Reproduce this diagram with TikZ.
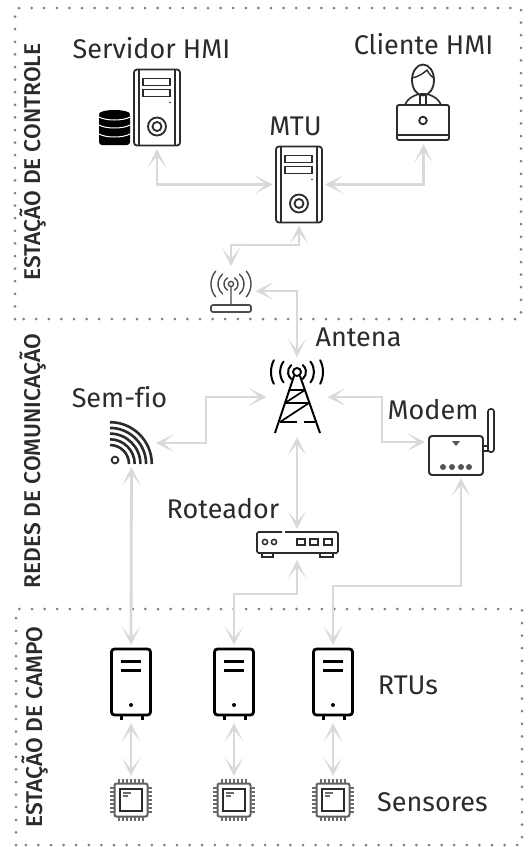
\documentclass[tikz,border=0pt]{standalone}
\usepackage{fontspec}
\setmainfont[Ligatures=NoCommon]{Fira Sans}
\newfontfamily\zonefont{Fira Sans Medium}
\usetikzlibrary{arrows.meta,positioning,calc}
\definecolor{ink}{HTML}{2B2B2B}
\definecolor{wire}{HTML}{D9D9D9}
\definecolor{dotgray}{HTML}{808080}
\tikzset{
 lbl/.style={font=\fontsize{27}{29}\selectfont,text=ink,inner sep=0pt,anchor=base},
 zonelbl/.style={font=\fontsize{22.8}{25}\zonefont,text=ink,inner sep=0pt,rotate=90},
 iconbox/.style={inner sep=0pt,outer sep=3pt,minimum width=#1},
 wirelink/.style={draw=wire,line width=2.8pt,{Stealth[length=18pt,width=18pt,inset=11pt]}-{Stealth[length=18pt,width=18pt,inset=11pt]}},
 zone/.style={dotgray,line width=3pt,line cap=round,dash pattern=on 0pt off 12.6pt},
 pics/towerpc/.style={code={
  \draw[ink,line width=1.8pt,rounded corners=3pt] (-23,-38) rectangle (23,38);
  \draw[ink,line width=1.5pt] (-18,-38) -- (-18,38) (18,-38) -- (18,38);
  \draw[ink,line width=1.5pt] (-14,-29) rectangle (13,-22) (-14,-18) rectangle (13,-11);
  \draw[ink,line width=1.8pt] (0,19) circle (9pt) (0,19) circle (4.5pt);
  \fill[ink] (13,-5) circle (.8pt);
 }},
 pics/rtubox/.style={code={
  \draw[black,line width=2.8pt,rounded corners=3pt] (-19.5,-35) rectangle (19.5,31);
  \draw[black,line width=3pt] (-10,-23) -- (10,-23) (-10,-14) -- (10,-14) (-10,31) -- (-10,36) (11,31) -- (11,36);
  \fill[black] (0,21) circle (2pt);
 }},
 pics/chipbox/.style={code={
  \draw[ink!75,line width=2pt,rounded corners=2pt] (-16.5,-16.5) rectangle (16.5,16.5);
  \draw[ink,line width=1.5pt] (-11,-11) rectangle (11,11);
  \draw[ink!70,line width=1.2pt] (-8,-7) -- (0,-7) (-8,-4) -- (-3,-4);
  \foreach \p in {-12,-8,...,12}{
   \draw[ink!70,line width=1.4pt] (\p,-21) -- (\p,-17) (\p,17) -- (\p,21) (-21,\p) -- (-17,\p) (17,\p) -- (21,\p);
  }
 }}
}
\begin{document}
\begin{tikzpicture}[x=1pt,y=-1pt]
\useasboundingbox (0,0) rectangle (529,847);
% zones
\draw[zone] (15,319) -- (15,8) -- (521,8) -- (521,319) -- cycle;
\draw[zone] (16,845) -- (16,609) -- (522,609) -- (522,845) -- cycle;
\node[zonelbl] (zctrl) at (33,162) {ESTAÇÃO DE CONTROLE};
\node[zonelbl] (zcom) at (33,461) {REDES DE COMUNICAÇÃO};
\node[zonelbl] (zcampo) at (35,727) {ESTAÇÃO DE CAMPO};
% icon places
\node[iconbox=46pt,minimum height=77pt] (srv) at (157,107.5) {};
\node[iconbox=32pt,minimum height=36pt] (db) at (114,127.5) {};
\node[iconbox=46pt,minimum height=76pt] (mtu) at (299,184.5) {};
\node[iconbox=53pt,minimum height=77pt] (hmi) at (423.5,102.5) {};
\node[iconbox=43pt,minimum height=44pt] (ant) at (231,291) {};
\node[iconbox=55pt,minimum height=74pt] (tower) at (297,397) {};
\node[iconbox=43pt,minimum height=42pt] (wifi) at (131.5,443) {};
\node[iconbox=66pt,minimum height=66pt] (modem) at (461,442) {};
\node[iconbox=82pt,minimum height=25pt] (router) at (297,544.5) {};
\foreach \n/\x in {1/131,2/234,3/333}{
 \node[iconbox=40pt,minimum height=72pt] (rtu\n) at (\x,684) {};
 \node[iconbox=43pt,minimum height=42pt] (chip\n) at (\x,800) {};
 \pic at (rtu\n) {rtubox};
 \pic at (chip\n) {chipbox};
 \draw[wirelink] (rtu\n) -- (chip\n);
}
% computers
\pic at (srv) {towerpc};
\pic at (mtu) {towerpc};
% database
\fill[black,rounded corners=3pt] (99,113) rectangle (130,145);
\fill[black] (114.5,114) ellipse (15.5pt and 4pt);
\foreach \y in {117,125,134}{
 \draw[white,line width=1pt] (99,\y) .. controls (106,\y+4) and (123,\y+4) .. (130,\y);
}
% operator with laptop
\draw[ink,line width=1.8pt] (423,80) ellipse (11pt and 15.5pt);
\draw[ink,line width=1.4pt] (412,78) .. controls (418,77) and (424,73) .. (427,70) .. controls (429,74) and (432,77) .. (434,78);
\draw[ink,line width=1.6pt,rounded corners=4pt] (405,105) -- (407,100) -- (417,94) -- (429,94) -- (439,100) -- (441,105);
\draw[ink,line width=1.4pt] (420,95) -- (420,105) (426,95) -- (426,105);
\draw[ink,line width=1.9pt,rounded corners=2pt] (397,105) rectangle (449,140);
\draw[ink,line width=1.4pt] (397,135) -- (449,135);
\draw[ink,line width=1.8pt] (423,120.5) circle (3.8pt);
% base antenna
\foreach \r/\a in {7/60,13/50,20/40}{
 \draw[ink!85,line width=1.4pt,line cap=round] (231,284) ++(180-\a:\r pt) arc[start angle=180-\a,end angle=180+\a,radius=\r pt];
 \draw[ink!85,line width=1.4pt,line cap=round] (231,284) ++(-\a:\r pt) arc[start angle=-\a,end angle=\a,radius=\r pt];
}
\draw[ink!85,line width=1.4pt] (231,284) circle (2.6pt) (231,287) -- (231,305);
\draw[ink!85,line width=1.7pt,rounded corners=2pt] (211,305) rectangle (251,312);
% tower
\foreach \r/\a in {9/50,17/38,26/27}{
 \draw[black,line width=2pt,line cap=round] (297,372) ++(180-\a:\r pt) arc[start angle=180-\a,end angle=180+\a,radius=\r pt];
 \draw[black,line width=2pt,line cap=round] (297,372) ++(-\a:\r pt) arc[start angle=-\a,end angle=\a,radius=\r pt];
}
\draw[black,line width=1.9pt] (297,372) circle (4pt);
\draw[black,line width=2pt] (294,376) -- (275,433) (300,376) -- (320,433);
\draw[black,line width=1.7pt] (289,390) -- (305,390) (285,403) -- (309,403) (280,422) -- (297,422) (304,422) -- (315,422);
\draw[black,line width=1.7pt] (285,403) -- (305,390) (280,422) -- (309,403);
% wireless
\draw[ink,line width=1.8pt] (115,460) circle (3.4pt);
\foreach \r in {19,24.7,30.4,36.1,41.8}{
 \draw[ink,line width=2.6pt] (110,464) ++(90:\r pt) arc[start angle=90,end angle=0,radius=\r pt];
}
% modem
\draw[ink,line width=1.9pt,rounded corners=3pt] (429,436) rectangle (483,475);
\draw[ink,line width=1.7pt,rounded corners=2.5pt] (488,409) rectangle (494,452);
\draw[ink,line width=1.5pt] (483,446) -- (488,446) (483,451) -- (488,451);
\fill[ink!80] (452,441) -- (460,441) -- (456,446) -- cycle;
\foreach \x in {443,452,461,469}{
 \fill[ink!80] (\x,467) circle (3pt);
}
% router
\draw[ink,line width=1.7pt,rounded corners=1.5pt] (282,532) -- (257,532) -- (257,553) -- (338,553) -- (338,532) -- (285,532);
\draw[ink,line width=1.5pt] (262,553) -- (262,557) -- (273,557) -- (273,553) (320,553) -- (320,557) -- (333,557) -- (333,553);
\draw[ink,line width=1.5pt] (265,542) circle (2.6pt) (274,542) circle (2.6pt);
\foreach \x in {301,314,328}{
 \draw[ink,line width=1.5pt] (\x-4,539) rectangle (\x+4,545);
}
% links
\coordinate (busa) at (265,245);
\coordinate (busl) at (206,420);
\coordinate (busr) at (382,420);
\coordinate (busb) at (265,594);
\coordinate (busm) at (400,586);
\draw[wirelink] (srv.south) |- (mtu.west);
\draw[wirelink] (hmi.south) |- (mtu.east);
\draw[wirelink] (mtu.south) |- (busa) -| (ant.north);
\draw[wirelink] (ant.east) -| (tower.north);
\draw[wirelink] (tower.west) -| (busl) |- (wifi.east);
\draw[wirelink] (tower.east) -| (busr) |- (modem.west);
\draw[wirelink] (tower.south) -- (router.north);
\draw[wirelink] (wifi.south) -- (rtu1.north);
\draw[wirelink] (router.south) |- (busb) -| (rtu2.north);
\draw[wirelink] (modem.south) |- (busm) -| (rtu3.north);
% labels
\node[lbl] (lsrv) at (151.5,58) {Servidor HMI};
\node[lbl] (lhmi) at (423.5,54) {Cliente HMI};
\node[lbl] (lmtu) at (295.5,135) {MTU};
\node[lbl] (lant) at (358.5,346) {Antena};
\node[lbl] (lwifi) at (119.5,407) {Sem-fio};
\node[lbl] (lmodem) at (433,419) {Modem};
\node[lbl] (lrouter) at (223,518) {Roteador};
\node[lbl] (lrtu) at (408,694) {RTUs};
\node[lbl] (lsens) at (432.5,811) {Sensores};
\end{tikzpicture}
\end{document}
